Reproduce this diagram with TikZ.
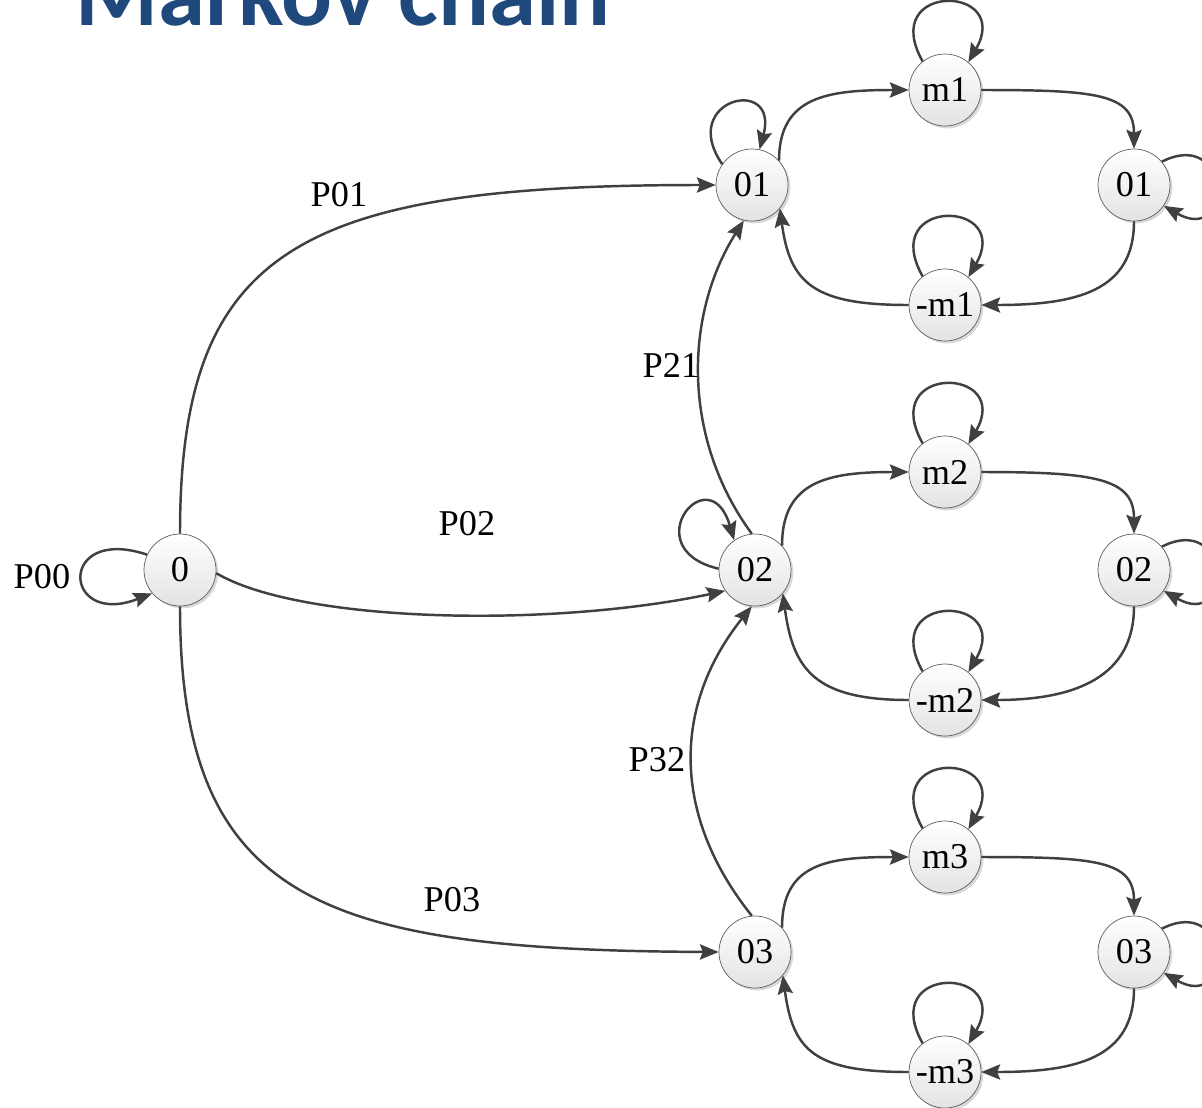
\documentclass[tikz,border=0pt]{standalone}
\usepackage{fontspec}
\setmainfont{Liberation Serif}
\newfontfamily\titlefont{Carlito}
\usetikzlibrary{arrows.meta,shadows}
\definecolor{edgegray}{HTML}{404040}
\definecolor{titleblue}{HTML}{1F497D}
\begin{document}
\begin{tikzpicture}[x=0.03cm,y=-0.03cm,
  state/.style={circle, draw=edgegray!85, line width=0.6pt, minimum size=2.16cm,
    inner sep=0pt, top color=white, bottom color=gray!22,
    drop shadow={shadow xshift=2pt, shadow yshift=-2pt, opacity=0.3},
    font=\fontsize{31}{36}\selectfont},
  edge/.style={draw=edgegray, line width=2.1pt,
    -{Stealth[length=16pt,width=13pt,inset=2.5pt]}},
  lbl/.style={font=\fontsize{31}{36}\selectfont, inner sep=0pt}]
\clip (0,0) rectangle (1202,1107);
\fill[white] (0,0) rectangle (1202,1107);

% title
\node[anchor=base west, inner sep=0pt, text=titleblue,
  font=\titlefont\bfseries\fontsize{81}{90}\selectfont] (title) at (75,25) {Markov chain};

% states
\node[state] (n0) at (180,570) {0};

\node[state] (L1) at (752,185) {01};
\node[state] (M1) at (945,90) {m1};
\node[state] (R1) at (1134,185) {01};
\node[state] (N1) at (945,305) {-m1};

\node[state] (L2) at (755,570) {02};
\node[state] (M2) at (945,472) {m2};
\node[state] (R2) at (1134,570) {02};
\node[state] (N2) at (945,700) {-m2};

\node[state] (L3) at (755,952) {03};
\node[state] (M3) at (945,857) {m3};
\node[state] (R3) at (1134,952) {03};
\node[state] (N3) at (945,1072) {-m3};

% transitions out of state 0
\draw[edge] (n0.155) .. controls +(-90,-30) and +(-90,35) .. (n0.220);
\draw[edge] (n0.90) .. controls +(0,-285) and +(-417,0) .. (L1.180);
\draw[edge] (n0.-5) .. controls +(85,50) and +(-174,37) .. (L2.215);
\draw[edge] (n0.270) .. controls +(0,295) and +(-398,-2) .. (L3.180);

% transitions between the left column
\draw[edge] (L2.95) .. controls +(-70,-95) and +(-60,95) .. (L1.257);
\draw[edge] (L3.95) .. controls +(-80,-100) and +(-80,100) .. (L2.265);

% self loops
\draw[edge] (L1.145) .. controls +(-45,-65) and +(20,-75) .. (L1.78);
\draw[edge] (L2.178) .. controls +(-85,-20) and +(-25,-85) .. (L2.125);
\foreach \s in {M1,N1,M2,N2,M3,N3}{
  \draw[edge] (\s.128) .. controls +(-45,-80) and +(45,-78) .. (\s.50);
}
\foreach \s in {R1,R2,R3}{
  \draw[edge] (\s.40) .. controls +(70,-35) and +(70,40) .. (\s.-35);
}

% inner cycles
\foreach \k in {1,2,3}{
  \draw[edge] (L\k.42) .. controls +(0,-65) and +(-80,0) .. (M\k.180);
  \draw[edge] (M\k.0) .. controls +(115,0) and +(0,-55) .. (R\k.90);
  \draw[edge] (R\k.270) .. controls +(0,70) and +(95,0) .. (N\k.0);
  \draw[edge] (N\k.180) .. controls +(-95,0) and +(10,75) .. (L\k.-40);
}

% transition labels
\node[lbl] (p00) at (42,577) {P00};
\node[lbl] (p01) at (339,195) {P01};
\node[lbl] (p02) at (467,524) {P02};
\node[lbl] (p03) at (452,900) {P03};
\node[lbl] (p21) at (671,365) {P21};
\node[lbl] (p32) at (657,760) {P32};
\end{tikzpicture}
\end{document}
